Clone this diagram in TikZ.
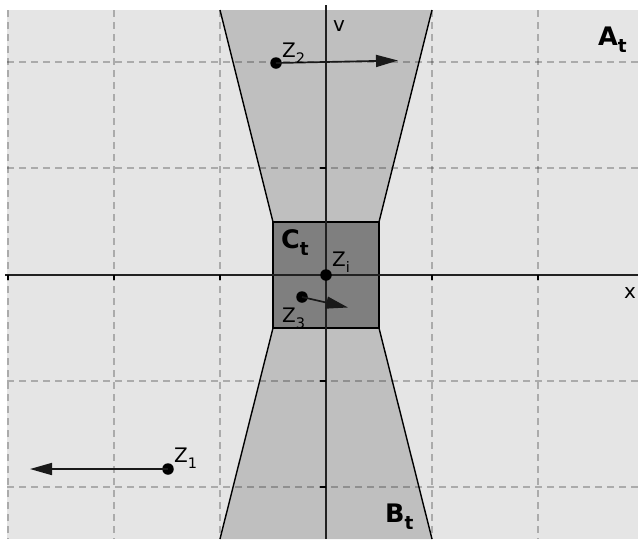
\documentclass[tikz,border=0pt]{standalone}
\usepackage{fontspec}
\setmainfont{DejaVu Sans}
\usetikzlibrary{arrows.meta}
\definecolor{bgc}{HTML}{E5E5E5}
\definecolor{midc}{HTML}{BFBFBF}
\definecolor{darkc}{HTML}{7F7F7F}
\newcommand\lsub[1]{\raisebox{-0.32em}{\fontsize{14.5}{14.5}\selectfont #1}}
\newcommand\bsub[1]{\raisebox{-0.3em}{\fontsize{18.5}{18.5}\selectfont\bfseries #1}}
\begin{document}
\begin{tikzpicture}[x=1pt,y=-1pt,
  gridline/.style={black,opacity=0.25,line width=1.2pt,dash pattern=on 7pt off 5pt},
  edge/.style={black,line width=1.4pt},
  axisline/.style={black!87,line width=1.6pt},
  tick/.style={black,line width=1.4pt},
  dot/.style={circle,fill=black,inner sep=0pt,minimum size=11.5pt},
  vec/.style={black!90,line width=1.7pt,-{Triangle[length=22pt,width=12pt]}},
  lbl/.style={inner sep=0pt,anchor=base west,font=\fontsize{20}{20}\selectfont},
  big/.style={inner sep=0pt,anchor=base west,font=\fontsize{25.5}{25.5}\selectfont\bfseries}]
\useasboundingbox (0,0) rectangle (638,539);
% background
\fill[bgc] (7,10) rectangle (638,539);
% regions
\fill[midc] (220,10) -- (432,10) -- (379,222) -- (273,222) -- cycle;
\fill[midc] (273,328) -- (379,328) -- (432,539) -- (220,539) -- cycle;
\fill[darkc] (273,222) rectangle (379,328);
% grid
\foreach \gx in {8,114,220,326,432,538} \draw[gridline] (\gx,10) -- (\gx,539);
\foreach \gy in {62,168,275,381,487} \draw[gridline] (7,\gy) -- (638,\gy);
% edges
\draw[edge] (220,10) -- (273,222) (432,10) -- (379,222);
\draw[edge] (220,539) -- (273,328) (432,539) -- (379,328);
\draw[edge] (273,222) rectangle (379,328);
% axes
\draw[axisline] (5,275) -- (638,275);
\draw[axisline] (326,5) -- (326,539);
\foreach \gx in {8,114,220,432,538} \draw[tick] (\gx,275) -- (\gx,280);
\foreach \gy in {62,168,381,487} \draw[tick] (326,\gy) -- (320,\gy);
\node[lbl] (vlab) at (333,31) {v};
\node[lbl] (xlab) at (624,298) {x};
% points
\node[dot] (z2) at (276,63) {};
\coordinate (z2e) at (398,60.5);
\draw[vec] (z2.center) -- (z2e);
\node[lbl] (z2l) at (282,57) {Z\lsub{2}};
\node[dot] (zi) at (326,275) {};
\node[lbl] (zil) at (332,266) {Z\lsub{i}};
\node[dot] (z3) at (302,297) {};
\coordinate (z3e) at (348,307.5);
\draw[vec] (z3.center) -- (z3e);
\node[lbl] (z3l) at (282,322) {Z\lsub{3}};
\node[dot] (z1) at (168,469) {};
\coordinate (z1e) at (30,469);
\draw[vec] (z1.center) -- (z1e);
\node[lbl] (z1l) at (174,462) {Z\lsub{1}};
% region labels
\node[big] (at) at (598,45) {A\bsub{t}};
\node[big] (ct) at (281,248) {C\bsub{t}};
\node[big] (bt) at (385,522) {B\bsub{t}};
\end{tikzpicture}
\end{document}
